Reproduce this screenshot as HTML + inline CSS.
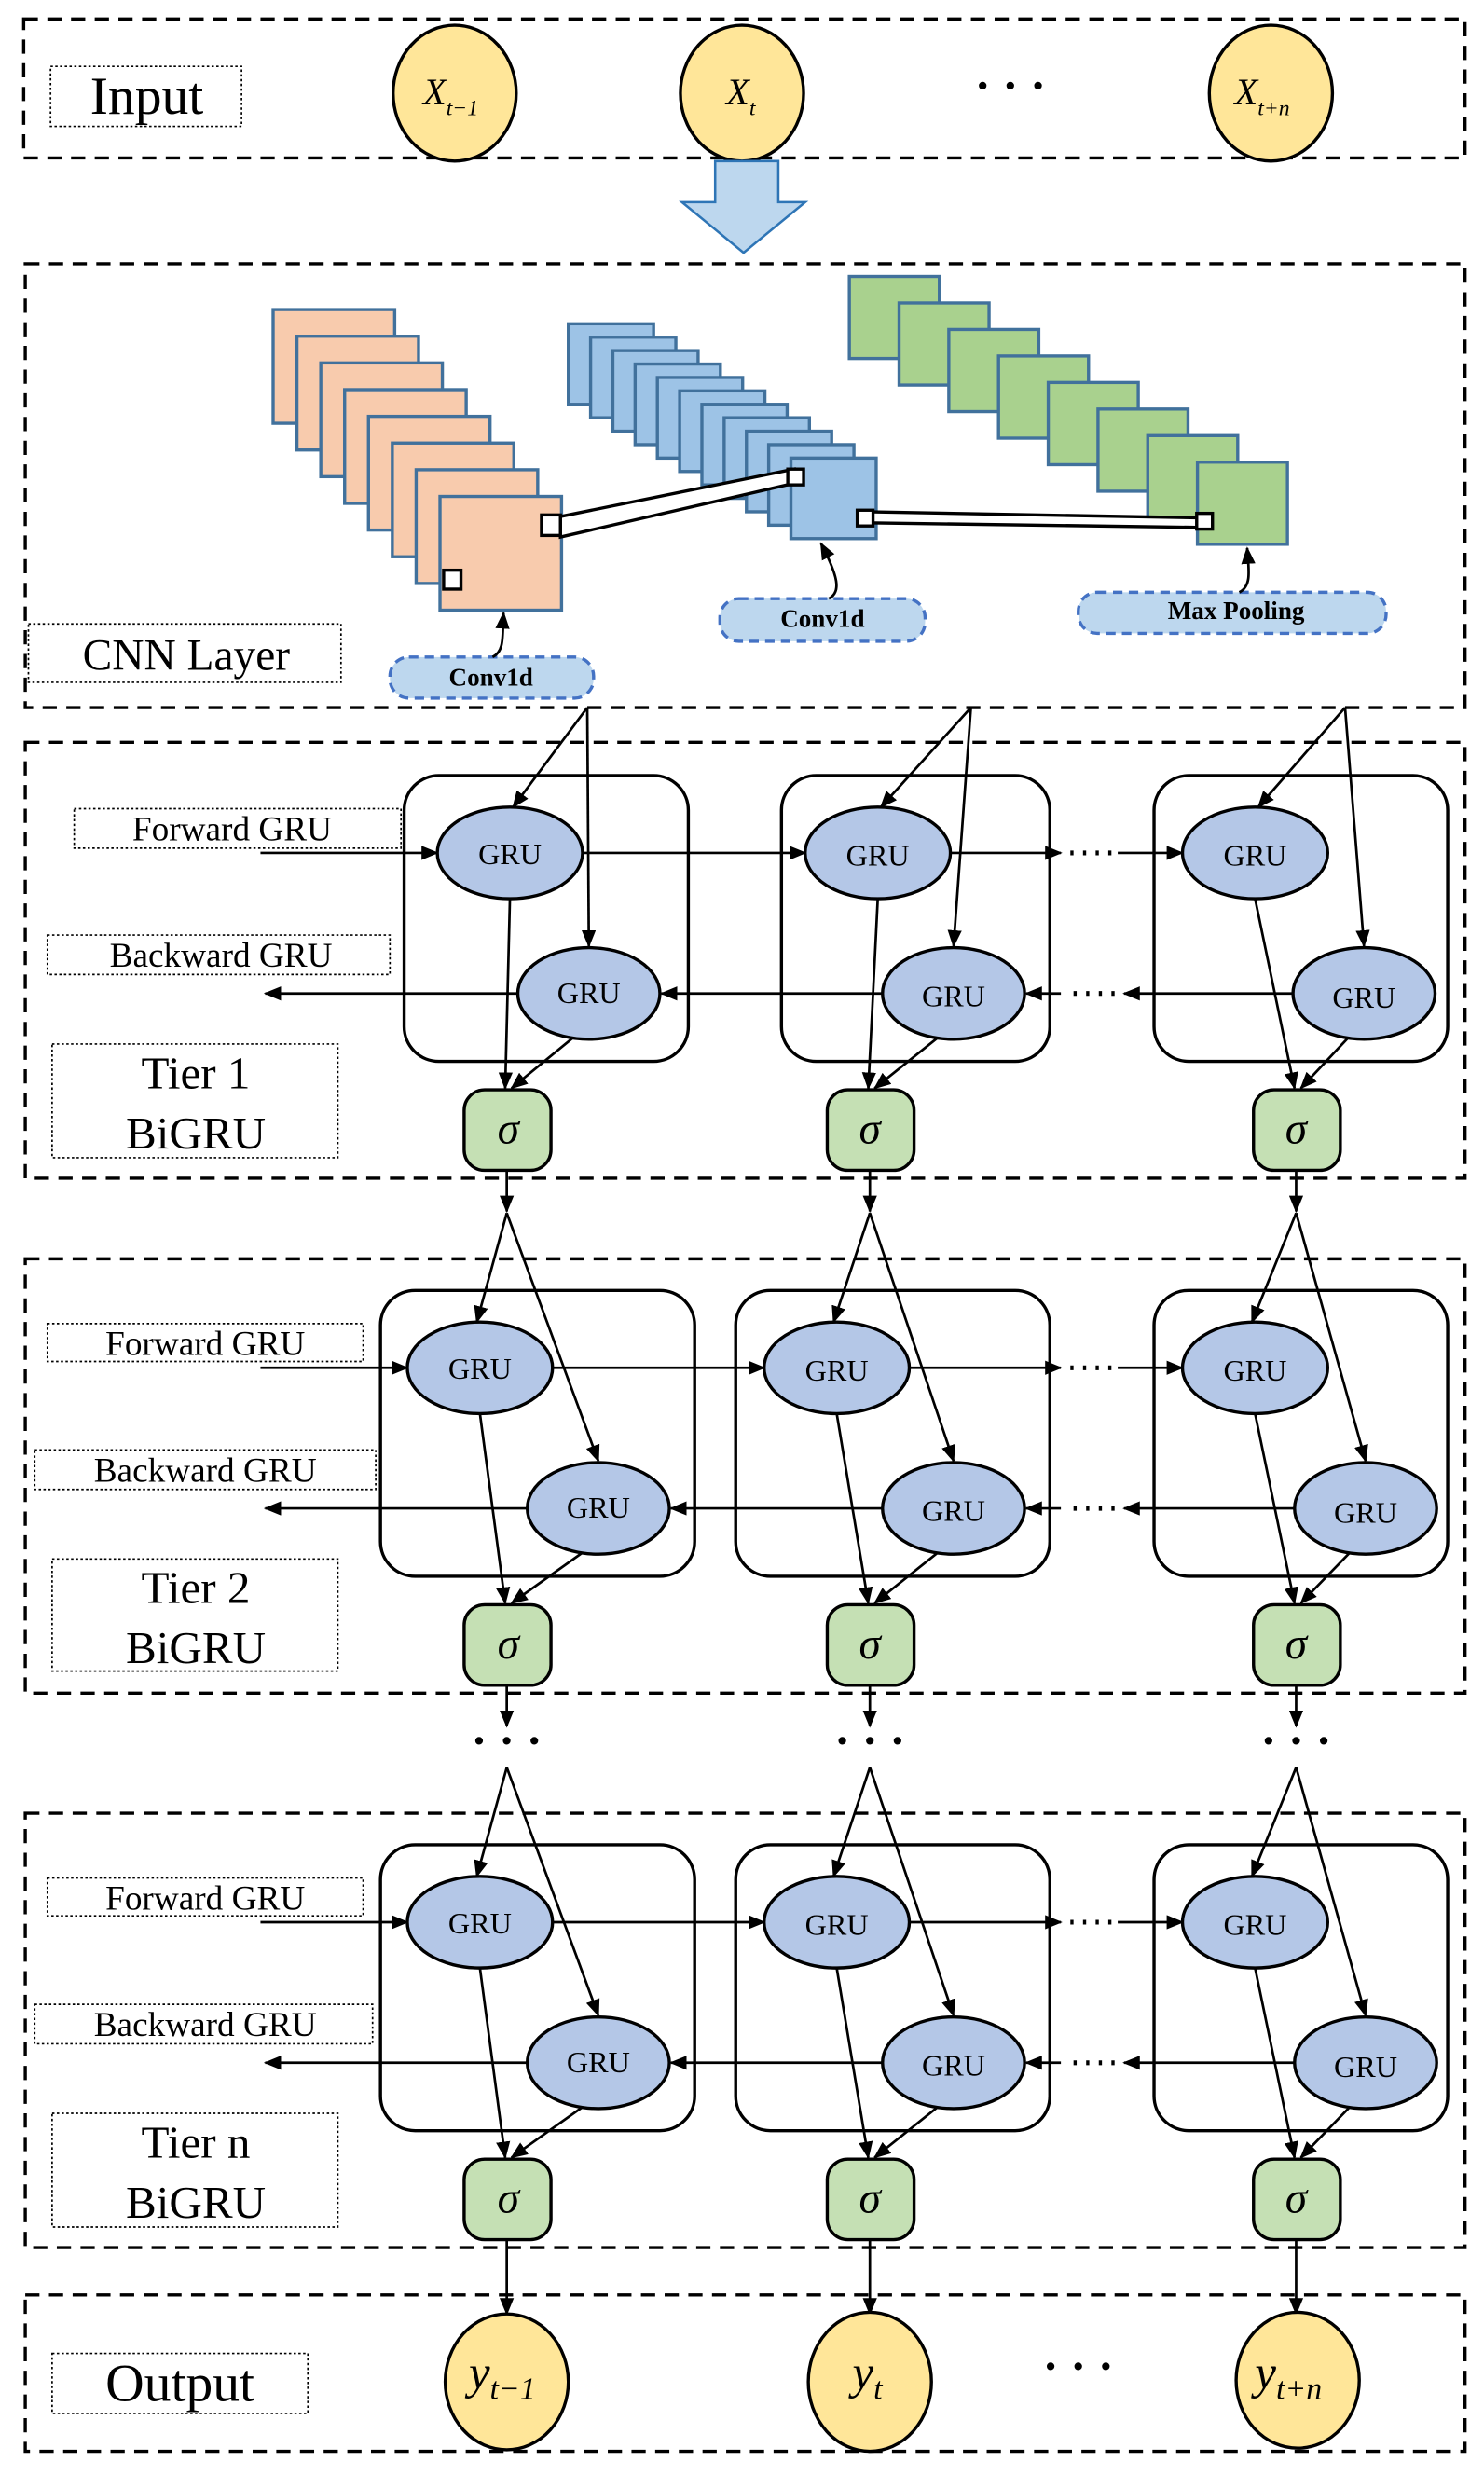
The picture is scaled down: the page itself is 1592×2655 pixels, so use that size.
<!DOCTYPE html>
<html><head><meta charset="utf-8"><style>
html,body{margin:0;padding:0;background:#fff;}
svg{display:block;font-family:"Liberation Serif","DejaVu Serif",serif;}
svg text{font-family:"Liberation Serif","DejaVu Serif",serif;}
</style></head><body>
<svg id="s" width="1592" height="2655" viewBox="0 0 940 1567" preserveAspectRatio="none" xmlns="http://www.w3.org/2000/svg" font-family="Liberation Serif, DejaVu Serif, serif">
<defs>
<marker id="ah" markerWidth="11" markerHeight="9" refX="10" refY="4.5" orient="auto" markerUnits="userSpaceOnUse"><path d="M0,0 L11,4.5 L0,9 z" fill="#000"/></marker>
</defs>
<g id="shapes"></g>
<g font-size="34" fill="#000">
<text x="93" y="72" text-anchor="middle">Input</text>
<text x="118" y="424" text-anchor="middle" font-size="28">CNN Layer</text>
<text x="114" y="1520" text-anchor="middle">Output</text>
</g>
<g font-size="22" text-anchor="middle">
<text x="147" y="532">Forward GRU</text>
<text x="140" y="612">Backward GRU</text>
<text x="130" y="858">Forward GRU</text>
<text x="130" y="938">Backward GRU</text>
<text x="130" y="1209">Forward GRU</text>
<text x="130" y="1289">Backward GRU</text>
</g>
<g font-size="29" text-anchor="middle">
<text x="124" y="689">Tier 1</text><text x="124" y="727">BiGRU</text>
<text x="124" y="1015">Tier 2</text><text x="124" y="1053">BiGRU</text>
<text x="124" y="1366">Tier n</text><text x="124" y="1404">BiGRU</text>
</g>
<g font-size="16" font-weight="bold" text-anchor="middle">
<text x="311" y="434">Conv1d</text>
<text x="521" y="397">Conv1d</text>
<text x="783" y="392">Max Pooling</text>
</g>
<g font-size="19" text-anchor="middle" fill="#000">
<text x="323" y="547">GRU</text><text x="373" y="635">GRU</text>
<text x="556" y="548">GRU</text><text x="604" y="637">GRU</text>
<text x="795" y="548">GRU</text><text x="864" y="638">GRU</text>
<text x="304" y="873">GRU</text><text x="379" y="961">GRU</text>
<text x="530" y="874">GRU</text><text x="604" y="963">GRU</text>
<text x="795" y="874">GRU</text><text x="865" y="964">GRU</text>
<text x="304" y="1224">GRU</text><text x="379" y="1312">GRU</text>
<text x="530" y="1225">GRU</text><text x="604" y="1314">GRU</text>
<text x="795" y="1225">GRU</text><text x="865" y="1315">GRU</text>
</g>
<g font-size="28" font-style="italic" text-anchor="middle">
<text x="322" y="724">σ</text><text x="551" y="724">σ</text><text x="821" y="724">σ</text>
<text x="322" y="1050">σ</text><text x="551" y="1050">σ</text><text x="821" y="1050">σ</text>
<text x="322" y="1401">σ</text><text x="551" y="1401">σ</text><text x="821" y="1401">σ</text>
</g>
<g font-style="italic" font-size="24">
<text x="268" y="66">X<tspan font-size="14" dy="7">t−1</tspan></text>
<text x="460" y="66">X<tspan font-size="14" dy="7">t</tspan></text>
<text x="782" y="66">X<tspan font-size="14" dy="7">t+n</tspan></text>
<text x="297" y="1512" font-size="30">y<tspan font-size="20" dy="7">t−1</tspan></text>
<text x="540" y="1512" font-size="30">y<tspan font-size="20" dy="7">t</tspan></text>
<text x="795" y="1512" font-size="30">y<tspan font-size="20" dy="7">t+n</tspan></text>
</g>
<g font-size="30" font-weight="bold" text-anchor="middle">
<text x="640" y="64">· · ·</text>
<text x="683" y="1508">· · ·</text>
<text x="321" y="1112">· · ·</text><text x="551" y="1112">· · ·</text><text x="821" y="1112">· · ·</text>
</g>
</svg>
<script>
const g=document.getElementById('shapes');let h='';
const S='stroke="#000" stroke-width="2"';
const dash=(x,y,w,hh)=>h+=`<rect x="${x}" y="${y}" width="${w}" height="${hh}" fill="none" stroke="#000" stroke-width="2" stroke-dasharray="9,6"/>`;
const dot=(x,y,w,hh)=>h+=`<rect x="${x}" y="${y}" width="${w}" height="${hh}" fill="none" stroke="#000" stroke-width="1" stroke-dasharray="1.5,1.5"/>`;
const ell=(cx,cy,rx,ry,f)=>h+=`<ellipse cx="${cx}" cy="${cy}" rx="${rx}" ry="${ry}" fill="${f}" ${S}/>`;
const ar=(x1,y1,x2,y2)=>h+=`<line x1="${x1}" y1="${y1}" x2="${x2}" y2="${y2}" stroke="#000" stroke-width="1.6" marker-end="url(#ah)"/>`;
const ln=(x1,y1,x2,y2,w=1.6)=>h+=`<line x1="${x1}" y1="${y1}" x2="${x2}" y2="${y2}" stroke="#000" stroke-width="${w}"/>`;
dash(15,12,913,88);dash(16,167,912,281);dash(16,470,912,276);dash(16,797,912,275);dash(16,1148,912,275);dash(16,1453,912,99);
dot(32,42,121,38);dot(18,395,198,37);dot(33,1490,162,38);
[[47,512,207,25,30,592,217,25,33,661,181,72],[30,838,200,24,22,918,216,25,33,987,181,71],[30,1189,200,24,22,1269,214,25,33,1338,181,72]].forEach(a=>{dot(a[0],a[1],a[2],a[3]);dot(a[4],a[5],a[6],a[7]);dot(a[8],a[9],a[10],a[11]);});
ell(288,59,39,43,'#ffe699');ell(470,59,39,43,'#ffe699');ell(805,59,39,43,'#ffe699');
h+=`<path d="M453,102 L493,102 L493,128 L510,128 L471,160 L432,128 L453,128 z" fill="#bdd7ee" stroke="#2e75b6" stroke-width="1.5"/>`;
for(let i=0;i<8;i++)h+=`<rect x="${173+i*15.1}" y="${196+i*16.9}" width="77" height="72" fill="#f8cbad" stroke="#41719c" stroke-width="2"/>`;
for(let i=0;i<11;i++)h+=`<rect x="${360+i*14.1}" y="${205+i*8.5}" width="54" height="51" fill="#9dc3e6" stroke="#41719c" stroke-width="2"/>`;
for(let i=0;i<8;i++)h+=`<rect x="${538+i*31.5}" y="${175+i*16.8}" width="57" height="52" fill="#a9d18e" stroke="#41719c" stroke-width="2"/>`;
h+=`<polygon points="355,327 503,297 503,306 355,340" fill="#fff" stroke="#000" stroke-width="2"/>`;
h+=`<polygon points="549,324 767,328 767,334 549,331" fill="#fff" stroke="#000" stroke-width="2"/>`;
const sq=(x,y,w,hh)=>h+=`<rect x="${x}" y="${y}" width="${w}" height="${hh}" fill="#fff" stroke="#000" stroke-width="2"/>`;
sq(343,326,12,13);sq(281,361,11,12);sq(499,297,10,10);sq(543,323,10,10);sq(758,325,10,10);
const pill=(x,y,w,hh)=>h+=`<rect x="${x}" y="${y}" width="${w}" height="${hh}" rx="12" fill="#bdd7ee" stroke="#4472c4" stroke-width="2" stroke-dasharray="6,4"/>`;
pill(247,416,129,26);pill(456,379,130,27);pill(683,375,195,26);
const curl=(x1,y1,x2,y2)=>h+=`<path d="M${x1},${y1} C${x1+8},${y1-4} ${x1+6},${y1-14} ${x2},${y2}" fill="none" stroke="#000" stroke-width="1.6" marker-end="url(#ah)"/>`;
curl(312,416,319,388);curl(525,379,520,344);curl(785,375,790,347);
const tiers=[{y0:0,c:[[256,436,323,373,321],[495,665,556,604,551],[731,917,795,864,821]],top:448},
{y0:326,c:[[241,440,304,379,321],[466,665,530,604,551],[731,917,795,865,821]],top:768},
{y0:677,c:[[241,440,304,379,321],[466,665,530,604,551],[731,917,795,865,821]],top:1119}];
tiers.forEach((t,ti)=>{const y=t.y0;const fy=540+y,by=629+y,sy=714+y;
t.c.forEach((c)=>{h+=`<rect x="${c[0]}" y="${491+y}" width="${c[1]-c[0]}" height="181" rx="22" fill="none" ${S}/>`;});
const c=t.c;
ar(165,fy,c[0][2]-46,fy);ar(c[0][2]+46,fy,c[1][2]-46,fy);ar(c[1][2]+46,fy,672,fy);
h+=`<line x1="678" y1="${fy}" x2="706" y2="${fy}" stroke="#000" stroke-width="3" stroke-dasharray="2,6"/>`;ar(708,fy,c[2][2]-46,fy);
ar(c[2][3]-45,by,712,by);h+=`<line x1="706" y1="${by}" x2="678" y2="${by}" stroke="#000" stroke-width="3" stroke-dasharray="2,6"/>`;ar(672,by,c[1][3]+46,by);ar(c[1][3]-45,by,c[0][3]+46,by);ar(c[0][3]-45,by,168,by);
c.forEach((cc,i)=>{
ell(cc[2],fy,46,29,'#b4c7e7');ell(cc[3],by,45,29,'#b4c7e7');
h+=`<rect x="${cc[4]-27}" y="${sy-24}" width="55" height="51" rx="13" fill="#c5e0b4" ${S}/>`;
ar(cc[2],fy+29,cc[4]-1,sy-25);ar(cc[3]-10,by+28,cc[4]+3,sy-25);
let sx;
if(ti==0){sx=[372,615,852][i];ar(sx,448,cc[2]+2,fy-29);ar(sx,448,cc[3],by-30);}
else{sx=cc[4];ar(sx,t.top,cc[2]-2,fy-29);ar(sx,t.top,cc[3],by-30);}
if(ti<2)ar(cc[4],sy+27,cc[4],sy+53);else ar(cc[4],sy+27,cc[4],1465);
});
});
ell(321,1508,39,43,'#ffe699');ell(551,1508,39,44,'#ffe699');ell(822,1507,39,43,'#ffe699');
g.innerHTML=h;
</script>
</body></html>
